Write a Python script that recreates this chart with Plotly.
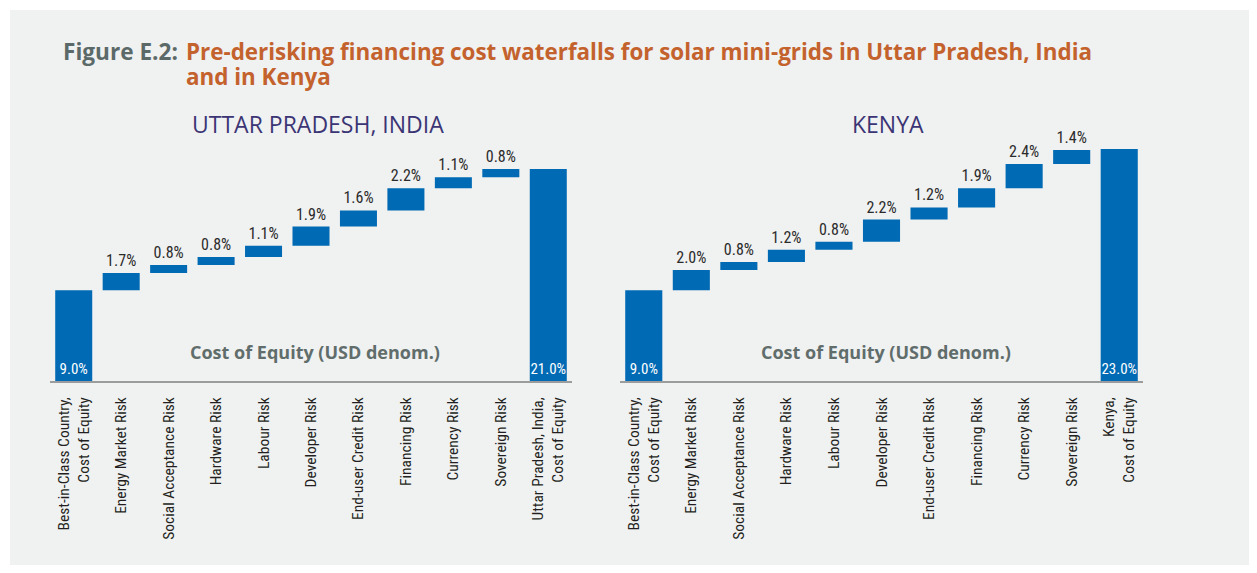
import plotly.graph_objects as go

# ---------------- data ----------------
india_categories = [
    "Best-in-Class Country,<br>Cost of Equity", "Energy Market Risk",
    "Social Acceptance Risk", "Hardware Risk", "Labour Risk", "Developer Risk",
    "End-user Credit Risk", "Financing Risk", "Currency Risk", "Sovereign Risk",
    "Uttar Pradesh, India,<br>Cost of Equity",
]
india_values = [9.0, 1.7, 0.8, 0.8, 1.1, 1.9, 1.6, 2.2, 1.1, 0.8, 21.0]

kenya_categories = [
    "Best-in-Class Country,<br>Cost of Equity", "Energy Market Risk",
    "Social Acceptance Risk", "Hardware Risk", "Labour Risk", "Developer Risk",
    "End-user Credit Risk", "Financing Risk", "Currency Risk", "Sovereign Risk",
    "Kenya,<br>Cost of Equity",
]
kenya_values = [9.0, 2.0, 0.8, 1.2, 0.8, 2.2, 1.2, 1.9, 2.4, 1.4, 23.0]

panel_titles = ["UTTAR PRADESH, INDIA", "KENYA"]
inner_label = "Cost of Equity (USD denom.)"
title_prefix = "Figure E.2:"
title_lines = ["Pre-derisking financing cost waterfalls for solar mini-grids in Uttar Pradesh, India",
               "and in Kenya"]

# ---------------- style ----------------
OFF = 8                      # default body margin of the html page
W, H = 1257 - 2 * OFF, 573 - 2 * OFF
BLUE = "#006ab4"
PANEL = "#f0f1f1"
COND = "Roboto Condensed, Liberation Sans Narrow, DejaVu Sans Condensed, Noto Sans, sans-serif"
BOLD = "Open Sans, Noto Sans, sans-serif"

def px_x(p):
    return (p - OFF) / W

def px_y(p):
    return 1 - (p - OFF) / H

fig = go.Figure()

def add_waterfall(cats, vals, xa, ya):
    n = len(vals)
    measure = ["absolute"] + ["relative"] * (n - 2) + ["absolute"]
    fig.add_trace(go.Waterfall(
        x=list(range(n)), y=vals, measure=measure,
        text=[f"{v:.1f}%" for v in vals],
        textposition=["inside"] + ["outside"] * (n - 2) + ["inside"],
        insidetextanchor="start",
        textangle=0,
        insidetextfont=dict(color="white", size=15, family=COND),
        outsidetextfont=dict(color="#2b2b2b", size=16, family=COND),
        constraintext="none",
        cliponaxis=False,
        connector=dict(visible=False),
        increasing=dict(marker=dict(color=BLUE)),
        decreasing=dict(marker=dict(color=BLUE)),
        totals=dict(marker=dict(color=BLUE)),
        width=0.78,
        xaxis=xa, yaxis=ya, showlegend=False, hoverinfo="skip",
    ))

add_waterfall(india_categories, india_values, "x", "y")
add_waterfall(kenya_categories, kenya_values, "x2", "y2")

ydom = [px_y(381), px_y(381 - 25 * 10.09)]
common_x = dict(
    showline=True, linecolor="#9b9d9d", linewidth=2, ticks="", showgrid=False,
    zeroline=False, tickangle=-90, tickmode="array", range=[-0.5, 10.5],
    tickfont=dict(family=COND, size=15.5, color="#231f20"),
    ticklabelstandoff=8, automargin=False, fixedrange=True,
)
common_y = dict(range=[0, 25], visible=False, showgrid=False, zeroline=False,
                domain=ydom, fixedrange=True)

fig.update_layout(
    width=W, height=H,
    margin=dict(l=0, r=0, t=0, b=0),
    paper_bgcolor="white", plot_bgcolor="rgba(0,0,0,0)",
    xaxis=dict(common_x, domain=[px_x(50), px_x(572)], anchor="y",
               tickvals=list(range(11)), ticktext=india_categories),
    xaxis2=dict(common_x, domain=[px_x(620), px_x(1143)], anchor="y2",
                tickvals=list(range(11)), ticktext=kenya_categories),
    yaxis=dict(common_y, anchor="x"),
    yaxis2=dict(common_y, anchor="x2"),
    shapes=[dict(type="rect", xref="paper", yref="paper", layer="below",
                 x0=px_x(10), x1=1, y0=0, y1=px_y(10),
                 fillcolor=PANEL, line=dict(width=0))],
)

ann = []
P = dict(xref="paper", yref="paper", showarrow=False)
ann.append(dict(P, text=f"<b>{title_prefix}</b>", x=px_x(61), y=px_y(51),
                xanchor="left", yanchor="middle",
                font=dict(family=BOLD, size=22.6, color="#5b6a69")))
for i, line in enumerate(title_lines):
    ann.append(dict(P, text=f"<b>{line}</b>", x=px_x(184), y=px_y(51 + 25.5 * i),
                    xanchor="left", yanchor="middle", align="left",
                    font=dict(family=BOLD, size=22.4, color="#c4622d")))
for cx, t in zip([317.5, 888], panel_titles):
    ann.append(dict(P, text=t, x=px_x(cx), y=px_y(124), xanchor="center",
                    yanchor="middle",
                    font=dict(family="Open Sans, Noto Sans, sans-serif", size=23,
                              color="#3b3575")))
for cx in [315, 886]:
    ann.append(dict(P, text=f"<b>{inner_label}</b>", x=px_x(cx), y=px_y(352),
                    xanchor="center", yanchor="middle",
                    font=dict(family=BOLD, size=18, color="#606d6b")))
fig.update_layout(annotations=ann)

fig.write_html("out.html")
